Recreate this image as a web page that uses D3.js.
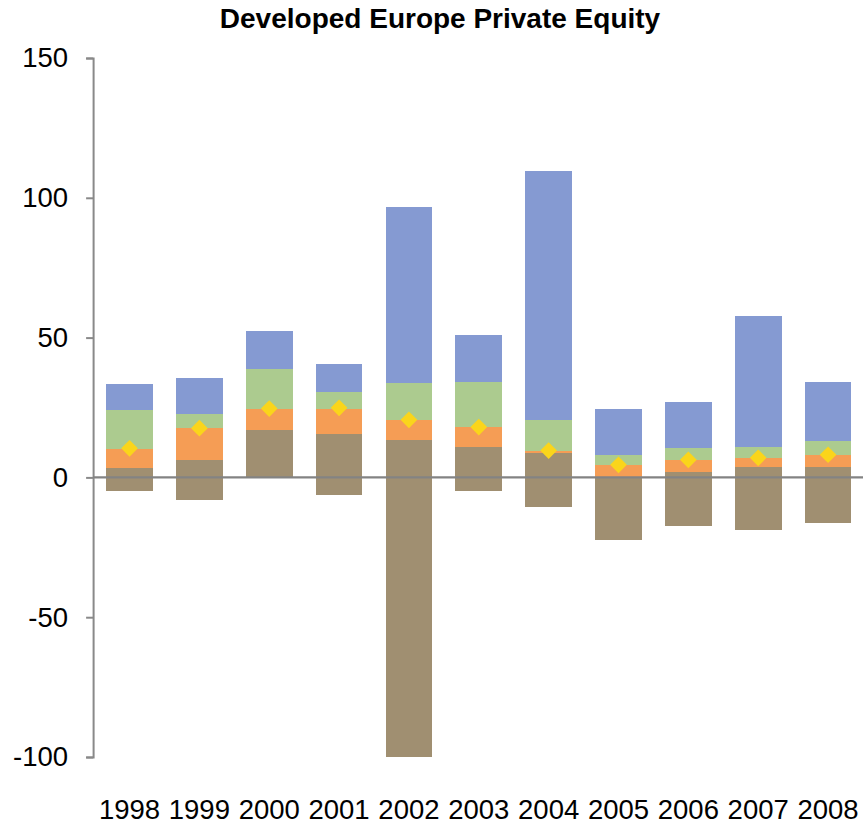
<!DOCTYPE html>
<html>
<head>
<meta charset="utf-8">
<script src="https://cdn.jsdelivr.net/npm/d3@7"></script>
<style>
  body { margin: 0; background: #fff; }
  text { font-family: "Liberation Sans", Arial, sans-serif; }
</style>
</head>
<body>
<div id="chart"></div>
<script>
/* Developed Europe Private Equity - floating stacked bars */

const years = ["1998", "1999", "2000", "2001", "2002", "2003", "2004", "2005", "2006", "2007", "2008"];

// bottom of the brown block (can be negative)
const brownLow  = [-5, -8.2, 0, -6.4, -100, -5, -10.7, -22.5, -17.4, -18.9, -16.4];
// tops of each stacked segment
const brownTop  = [3.2, 6.4, 17.1, 15.7, 13.2, 10.7, 8.6, 0.2, 1.8, 3.6, 3.6];
const orangeTop = [10, 17.6, 24.3, 24.6, 20.5, 17.9, 9.3, 4.3, 6.1, 6.8, 7.9];
const greenTop  = [24, 22.6, 38.7, 30.6, 33.7, 34.2, 20.6, 7.9, 10.5, 10.7, 13.1];
const blueTop   = [33.5, 35.7, 52.3, 40.4, 96.7, 50.8, 109.5, 24.6, 27, 57.6, 34.2];
// yellow diamonds
const marker    = [10.4, 17.6, 24.6, 24.9, 20.6, 18, 9.6, 4.5, 6.3, 7, 8.1];

const yTicks = [-100, -50, 0, 50, 100, 150];

const width = 866, height = 836;
const margin = { top: 58, right: 3, bottom: 79, left: 94.6 };

let svg = d3.select("#chart")
    .append("svg")
    .attr("width", width)
    .attr("height", height)
    .attr("viewBox", [0, 0, width, height]);

let x = d3.scaleBand()
    .domain(years)
    .range([margin.left, width - margin.right])
    .paddingInner(0.33)
    .paddingOuter(0.165);

let y = d3.scaleLinear()
    .domain([-100, 150])
    .range([height - margin.bottom, margin.top]);

/* segments: [low, high, colour] for every year */
const layers = [
    { low: brownLow, high: brownTop, color: "#a08f71" },
    { low: brownTop, high: orangeTop, color: "#f59d55" },
    { low: orangeTop, high: greenTop, color: "#accb8f" },
    { low: greenTop, high: blueTop, color: "#859ad2" }
];

layers.forEach(layer => {
    svg.append("g")
        .attr("shape-rendering", "crispEdges")
        .selectAll("rect")
        .data(years)
        .join("rect")
        .attr("x", d => x(d))
        .attr("width", x.bandwidth())
        .attr("y", (d, i) => y(layer.high[i]))
        .attr("height", (d, i) => Math.max(0, y(layer.low[i]) - y(layer.high[i])))
        .attr("fill", layer.color);
});

/* y axis */
let yAxis = svg.append("g")
    .attr("transform", `translate(${margin.left - 1.5},0)`)
    .call(d3.axisLeft(y).tickValues(yTicks).tickSize(7).tickPadding(18).tickFormat(d => String(d)));
yAxis.select(".domain").attr("stroke", "#898989").attr("stroke-width", 2);
yAxis.selectAll(".tick line").attr("stroke", "#898989").attr("stroke-width", 2);
yAxis.selectAll(".tick text")
    .attr("font-size", 27.5)
    .attr("fill", "#000")
    .attr("font-family", "Liberation Sans, Arial, sans-serif");

/* zero line across the bars */
svg.append("line")
    .attr("x1", margin.left - 1.5)
    .attr("x2", 863)
    .attr("y1", y(0))
    .attr("y2", y(0))
    .attr("stroke", "#838383")
    .attr("stroke-width", 2.2);

/* diamonds */
svg.append("g")
    .selectAll("path")
    .data(years)
    .join("path")
    .attr("d", d3.symbol(d3.symbolSquare, 140))
    .attr("transform", (d, i) => `translate(${x(d) + x.bandwidth() / 2},${y(marker[i])}) rotate(45)`)
    .attr("fill", "#fad51b");

/* year labels */
svg.append("g")
    .selectAll("text")
    .data(years)
    .join("text")
    .attr("x", d => x(d) + x.bandwidth() / 2)
    .attr("y", 819)
    .attr("text-anchor", "middle")
    .attr("font-size", 27.5)
    .text(d => d);

/* title */
svg.append("text")
    .attr("x", 440)
    .attr("y", 28)
    .attr("text-anchor", "middle")
    .attr("font-size", 28)
    .attr("font-weight", "bold")
    .text("Developed Europe Private Equity");
</script>
</body>
</html>
